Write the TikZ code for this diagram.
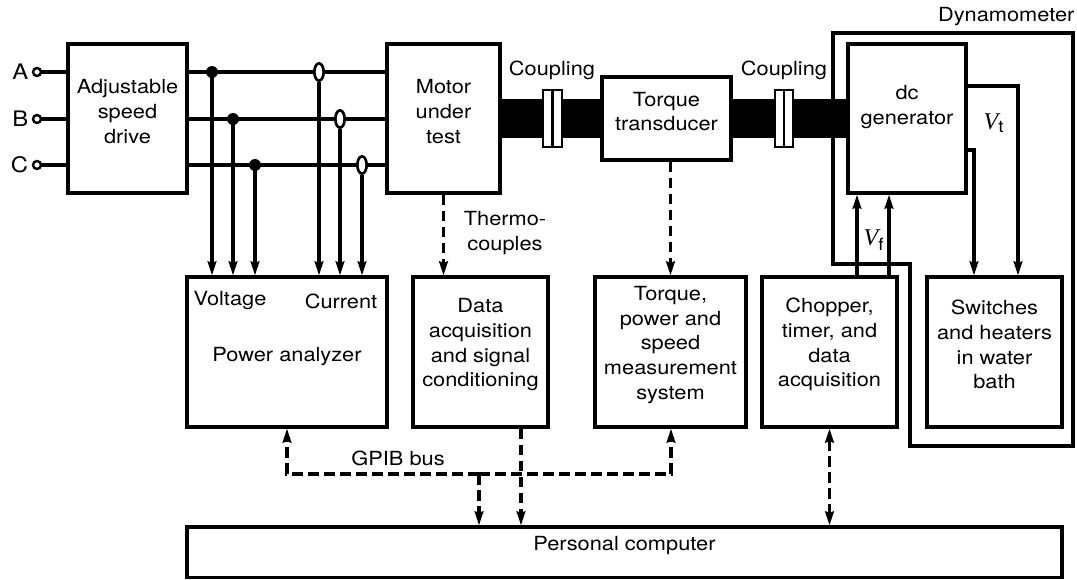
\documentclass[tikz,border=0pt]{standalone}
\usepackage{fontspec}
\setmainfont[FakeStretch=1.12]{TeX Gyre Heros}
\newfontfamily\vfont{Liberation Serif}
\usetikzlibrary{arrows.meta,shapes.geometric,fit}
\begin{document}
\begin{tikzpicture}[x=0.75pt,y=-0.75pt, line width=2.4pt,
  font=\fontsize{14.6}{18.5}\selectfont,
  box/.style={draw, inner sep=0pt, align=center, line join=miter},
  tip/.tip={Stealth[length=10.5pt,width=6.5pt,inset=1.2pt]},
  arr/.style={-tip},
  dline/.style={dash pattern=on 8pt off 4pt},
  term/.style={circle, draw, fill=white, inner sep=0pt, minimum size=6pt, line width=1.8pt},
  jdot/.style={circle, fill, inner sep=0pt, minimum size=9pt},
  sensor/.style={ellipse, draw, fill=white, inner sep=0pt, minimum width=7pt, minimum height=13pt, line width=2pt},
  lbl/.style={inner sep=0pt, align=center},
  vlbl/.style={inner sep=0pt, font=\fontsize{18}{20}\selectfont}]
\useasboundingbox (0,0) rectangle (1077,579);

% boxes
\node[box, fit={(68,44) (187,193)}] (asd) {Adjustable\\speed\\drive};
\node[box, fit={(387,44) (500,193)}] (motor) {Motor\\under\\test};
\node[box, fit={(602,77) (731,160)}] (tt) {Torque\\transducer};
\node[box, fit={(848,44) (966,193)}] (dcg) {};
\node[lbl] at (907,107) {dc\\generator};
\node[box, fit={(187,277) (387,427)}] (pa) {};
\node[box, fit={(413,277) (548,427)}] (da) {Data\\acquisition\\and signal\\conditioning};
\node[box, fit={(595,277) (746,427)}] (tp) {Torque,\\power and\\speed\\measurement\\system};
\node[box, fit={(762,277) (897,427)}] (ch) {Chopper,\\timer, and\\data\\acquisition};
\node[box, fit={(927,277) (1062,427)}] (sw) {Switches\\and heaters\\in water\\bath};
\node[box, fit={(187,527) (1062,577.5)}] (pc) {Personal computer};

% texts in power analyzer
\node[lbl] at (230,301) {Voltage};
\node[lbl] at (341,301) {Current};
\node[lbl] at (287,357) {Power analyzer};

% dynamometer outline
\draw[line join=miter] (910,264) -- (833,264) -- (833,33) -- (1073,33) -- (1073,446) -- (910,446) -- cycle;
\node[anchor=east, inner sep=0pt] at (1076,17) {Dynamometer};

% shaft and couplings
\fill (motor.east |- 0,99) rectangle (tt.west |- 0,138);
\fill (tt.east |- 0,99) rectangle (dcg.west |- 0,138);
\draw[line width=1.8pt, fill=white] (543,90) rectangle (552.5,147) (552.5,90) rectangle (562,147);
\draw[line width=1.8pt, fill=white] (775,90) rectangle (784,147) (784,90) rectangle (793,147);
\node[lbl] at (552,70) {Coupling};
\node[lbl] at (784,70) {Coupling};

% three-phase supply
\coordinate (tA) at (37,72);
\coordinate (tB) at (37,119);
\coordinate (tC) at (37,165);
\foreach \p in {A,B,C}{
  \draw (tA |- t\p) -- (asd.west |- t\p);
  \draw (asd.east |- t\p) -- (motor.west |- t\p);
}
\node[term, label={[inner sep=1.5pt, font=\fontsize{16}{18}\selectfont]left:A}] (nA) at (tA) {};
\node[term, label={[inner sep=1.5pt, font=\fontsize{16}{18}\selectfont]left:B}] (nB) at (tB) {};
\node[term, label={[inner sep=1.5pt, font=\fontsize{16}{18}\selectfont]left:C}] (nC) at (tC) {};

\node[jdot] (jA) at (212,72) {};
\node[jdot] (jB) at (233,119) {};
\node[jdot] (jC) at (255,165) {};
\node[sensor] (sA) at (319,72) {};
\node[sensor] (sB) at (340,119) {};
\node[sensor] (sC) at (362,165) {};
\foreach \n in {jA,jB,jC}{
  \draw[arr] (\n.center) -- (\n |- pa.north);
}
\foreach \n in {sA,sB,sC}{
  \draw[arr] (\n.south) -- (\n |- pa.north);
}

% thermocouples and torque signal
\draw[dline, arr] (motor.south) -- (motor.south |- da.north);
\node[lbl] at (505,233) {Thermo-\\couples};
\draw[dline, arr] (tp.north |- tt.south) -- (tp.north);

% dc generator connections
\draw[arr, line join=miter] (dcg.east |- 0,86) -| (1018,0 |- sw.north);
\draw[arr, line join=miter] (dcg.east |- 0,150) -| (974,0 |- sw.north);
\node[vlbl] at (994,123) {{\vfont\itshape V}\textsubscript{t}};
\draw[arr] (857,0 |- ch.north) -- (857,0 |- dcg.south);
\draw[arr] (889,0 |- ch.north) -- (889,0 |- dcg.south);
\node[vlbl] at (874,240) {{\vfont\itshape V}\textsubscript{f}};

% GPIB bus
\coordinate (bus) at (479,474);
\draw[dline, arr] (bus) -| (287,0 |- pa.south);
\draw[dline, arr] (bus) -| (671,0 |- tp.south);
\draw[dline, arr] (bus) -- (bus |- pc.north);
\draw[dline, arr] (521,0 |- da.south) -- (521,0 |- pc.north);
\draw[dline, tip-tip] (ch.south) -- (ch.south |- pc.north);
\node[lbl] at (398,458) {GPIB bus};
\end{tikzpicture}
\end{document}
